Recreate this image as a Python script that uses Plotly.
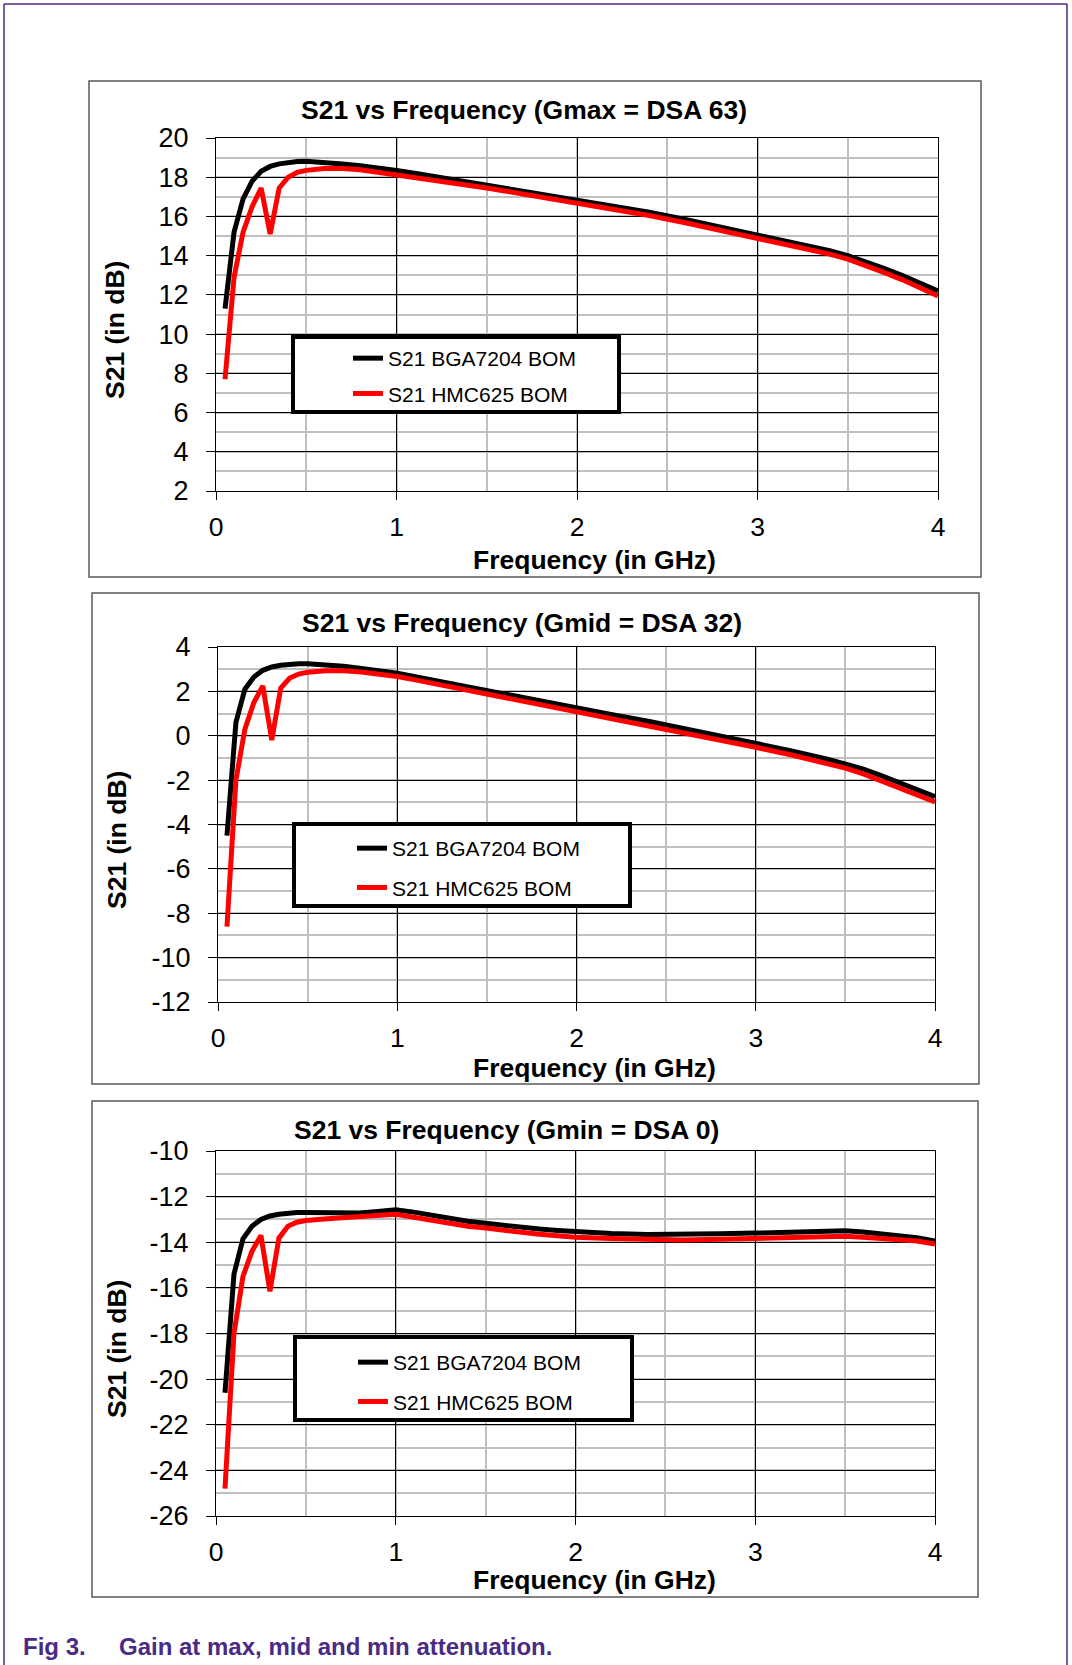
import plotly.graph_objects as go

# ---------------- data ----------------
freq_ghz = [0.05, 0.1, 0.15, 0.2, 0.25, 0.3, 0.35, 0.4, 0.45, 0.5, 0.6, 0.7, 0.8, 0.9,
            1.0, 1.1, 1.2, 1.3, 1.4, 1.5, 1.6, 1.7, 1.8, 1.9, 2.0, 2.2, 2.4, 2.6, 2.8,
            3.0, 3.2, 3.4, 3.5, 3.6, 3.7, 3.8, 3.9, 4.0]

gmax_bga = [11.3, 15.2, 16.9, 17.8, 18.3, 18.55, 18.68, 18.75, 18.8, 18.82, 18.78, 18.68,
            18.58, 18.48, 18.35, 18.2, 18.05, 17.92, 17.78, 17.62, 17.47, 17.32, 17.17,
            17.02, 16.87, 16.55, 16.22, 15.85, 15.45, 15.05, 14.68, 14.25, 14.0, 13.7,
            13.35, 13.0, 12.6, 12.2]
gmax_hmc = [7.7, 12.9, 15.2, 16.5, 17.45, 15.1, 17.45, 18.0, 18.25, 18.35, 18.45, 18.45,
            18.38, 18.25, 18.15, 18.02, 17.88, 17.75, 17.6, 17.45, 17.3, 17.15, 17.0,
            16.85, 16.7, 16.38, 16.05, 15.68, 15.28, 14.88, 14.5, 14.08, 13.82, 13.5,
            13.15, 12.78, 12.38, 11.95]

gmid_bga = [-4.5, 0.6, 2.1, 2.65, 2.95, 3.1, 3.18, 3.22, 3.24, 3.24, 3.2, 3.13, 3.03, 2.93,
            2.82, 2.66, 2.5, 2.34, 2.18, 2.02, 1.86, 1.7, 1.55, 1.4, 1.25, 0.95, 0.65,
            0.33, 0.0, -0.33, -0.68, -1.05, -1.25, -1.5, -1.8, -2.1, -2.42, -2.75]
gmid_hmc = [-8.6, -2.0, 0.3, 1.5, 2.25, -0.2, 2.15, 2.6, 2.78, 2.86, 2.93, 2.93, 2.87, 2.78,
            2.67, 2.52, 2.36, 2.2, 2.04, 1.88, 1.72, 1.56, 1.41, 1.26, 1.1, 0.8, 0.48,
            0.15, -0.18, -0.52, -0.87, -1.25, -1.46, -1.72, -2.02, -2.33, -2.66, -2.98]

gmin_bga = [-20.6, -15.4, -13.85, -13.3, -13.0, -12.85, -12.77, -12.72, -12.7, -12.7, -12.7,
            -12.72, -12.72, -12.65, -12.58, -12.68, -12.83, -12.98, -13.08, -13.17, -13.27,
            -13.35, -13.42, -13.48, -13.53, -13.62, -13.66, -13.66, -13.63, -13.6, -13.55,
            -13.5, -13.5, -13.55, -13.62, -13.68, -13.8, -13.95]
gmin_hmc = [-24.8, -18.0, -15.5, -14.4, -13.7, -16.15, -13.82, -13.3, -13.12, -13.05, -12.98,
            -12.92, -12.88, -12.82, -12.77, -12.9, -13.05, -13.2, -13.3, -13.38, -13.48,
            -13.57, -13.65, -13.72, -13.78, -13.84, -13.88, -13.9, -13.87, -13.82, -13.78,
            -13.75, -13.74, -13.78, -13.83, -13.86, -13.95, -14.08]

series_names = ["S21 BGA7204 BOM", "S21 HMC625 BOM"]
chart_titles = ["S21 vs Frequency (Gmax = DSA 63)",
                "S21 vs Frequency (Gmid = DSA 32)",
                "S21 vs Frequency (Gmin = DSA 0)"]
x_ticks = [0, 1, 2, 3, 4]
y_ticks = [
    [2, 4, 6, 8, 10, 12, 14, 16, 18, 20],
    [-12, -10, -8, -6, -4, -2, 0, 2, 4],
    [-26, -24, -22, -20, -18, -16, -14, -12, -10],
]
x_title = "Frequency (in GHz)"
y_title = "S21 (in dB)"
caption_num = "Fig 3."
caption_text = "Gain at max, mid and min attenuation."

# ---------------- layout geometry (pixels) ----------------
W, H = 1072, 1665
FONT = "Liberation Sans, Arial, sans-serif"
PURPLE = "#4B2A85"
TITLE_SIZE = 26.5

def px(x):
    return x / W

def py(y):
    return 1 - y / H

plots = [  # plot area: left, top, right, bottom
    (216, 138, 938, 491),
    (218, 647, 935, 1002),
    (216, 1151, 935, 1516),
]
boxes = [(89, 81, 981, 577), (92, 593, 979, 1084), (92, 1101, 978, 1597)]
legend_boxes = [(293, 337, 619, 412), (294, 824, 630, 906), (295, 1337, 632, 1420)]
legend_first_row = [356, 846, 1360]
legend_gap = [5, 9, 9]
legend_text_x = [393, 397, 398]
title_pos = [(524, 110), (522, 623), (506, 1130)]
xtitle_pos = [(594, 560), (594, 1068), (594, 1580)]
ytitle_pos = [(115, 330), (117, 840), (117, 1349)]

data_sets = [(gmax_bga, gmax_hmc), (gmid_bga, gmid_hmc), (gmin_bga, gmin_hmc)]
colors = ["#000000", "#FF0000"]

fig = go.Figure()
layout = dict(
    width=W, height=H, autosize=False,
    margin=dict(l=0, r=0, t=0, b=0, pad=0, autoexpand=False),
    paper_bgcolor="white", plot_bgcolor="white",
    font=dict(family=FONT, color="black"),
    shapes=[], annotations=[],
)

for i in range(3):
    sfx = "" if i == 0 else str(i + 1)
    leg = "legend" if i == 0 else "legend" + str(i + 1)
    for j in range(2):
        fig.add_trace(go.Scatter(
            x=freq_ghz, y=data_sets[i][j], mode="lines",
            name=series_names[j],
            line=dict(color=colors[j], width=5),
            xaxis="x" + sfx, yaxis="y" + sfx,
            legend=leg, legendgroup=f"g{i}{j}",
        ))
    l, t, r, b = plots[i]
    layout["xaxis" + sfx] = dict(
        domain=[px(l), px(r)], anchor="y" + sfx, range=[0, 4],
        tickmode="array", tickvals=x_ticks, ticktext=[str(v) for v in x_ticks],
        showgrid=True, gridcolor="#000000", gridwidth=1,
        minor=dict(dtick=0.5, tick0=0, showgrid=True, gridcolor="#BFBFBF", gridwidth=2, ticks=""),
        showline=True, linecolor="#000000", linewidth=1, mirror=True,
        ticks="outside", ticklen=8, tickcolor="#000000", tickwidth=1,
        tickfont=dict(size=26.5, family=FONT, color="black"),
        ticklabelstandoff=4, zeroline=False, fixedrange=True, automargin=False,
    )
    yt = y_ticks[i]
    layout["yaxis" + sfx] = dict(
        domain=[py(b), py(t)], anchor="x" + sfx, range=[yt[0], yt[-1]],
        tickmode="array", tickvals=yt, ticktext=[str(v) for v in yt],
        showgrid=True, gridcolor="#000000", gridwidth=1,
        minor=dict(dtick=1, tick0=0, showgrid=True, gridcolor="#BFBFBF", gridwidth=2, ticks=""),
        showline=True, linecolor="#000000", linewidth=1, mirror=True,
        ticks="outside", ticklen=9, tickcolor="#000000", tickwidth=1,
        tickfont=dict(size=27, family=FONT, color="black"),
        ticklabelstandoff=12, zeroline=False, fixedrange=True, automargin=False,
    )
    # chart frame
    bl, bt, br, bb = boxes[i]
    layout["shapes"].append(dict(type="rect", xref="paper", yref="paper",
                                 x0=px(bl), x1=px(br), y0=py(bb), y1=py(bt),
                                 line=dict(color="#5A5A5A", width=1.5), layer="below"))
    # legend frame
    ll, lt, lr, lb = legend_boxes[i]
    layout["shapes"].append(dict(type="rect", xref="paper", yref="paper",
                                 x0=px(ll), x1=px(lr), y0=py(lb), y1=py(lt),
                                 line=dict(color="#000000", width=4), fillcolor="white",
                                 layer="above"))
    layout[leg] = dict(
        x=px(legend_text_x[i] - 45), y=py(legend_first_row[i] - 18),
        xanchor="left", yanchor="top", bgcolor="rgba(0,0,0,0)", borderwidth=0,
        font=dict(size=21, family=FONT, color="black"),
        traceorder="grouped", tracegroupgap=legend_gap[i], itemclick=False,
    )
    # titles
    tx, ty = title_pos[i]
    layout["annotations"].append(dict(text="<b>" + chart_titles[i] + "</b>", x=px(tx), y=py(ty),
                                      xref="paper", yref="paper", showarrow=False,
                                      xanchor="center", yanchor="middle",
                                      font=dict(size=TITLE_SIZE, family=FONT, color="black")))
    xx, xy = xtitle_pos[i]
    layout["annotations"].append(dict(text="<b>" + x_title + "</b>", x=px(xx), y=py(xy),
                                      xref="paper", yref="paper", showarrow=False,
                                      xanchor="center", yanchor="middle",
                                      font=dict(size=TITLE_SIZE, family=FONT, color="black")))
    yx, yy = ytitle_pos[i]
    layout["annotations"].append(dict(text="<b>" + y_title + "</b>", x=px(yx), y=py(yy),
                                      xref="paper", yref="paper", showarrow=False,
                                      xanchor="center", yanchor="middle", textangle=-90,
                                      font=dict(size=TITLE_SIZE, family=FONT, color="black")))

# outer purple frame (bottom edge runs off the page)
for (x0, y0, x1, y1) in [(4, 4, 1067, 4), (4, 4, 4, 1665), (1067, 4, 1067, 1665)]:
    layout["shapes"].append(dict(type="line", xref="paper", yref="paper",
                                 x0=px(x0), x1=px(x1), y0=py(y0), y1=py(y1),
                                 line=dict(color=PURPLE, width=1.5), layer="below"))

# caption
layout["annotations"].append(dict(text="<b>" + caption_num + "</b>", x=px(21), y=py(1646),
                                  xref="paper", yref="paper", showarrow=False,
                                  xanchor="left", yanchor="middle",
                                  font=dict(size=24, family=FONT, color=PURPLE)))
layout["annotations"].append(dict(text="<b>" + caption_text + "</b>", x=px(117), y=py(1646),
                                  xref="paper", yref="paper", showarrow=False,
                                  xanchor="left", yanchor="middle",
                                  font=dict(size=24, family=FONT, color=PURPLE)))

fig.update_layout(**layout)
fig.write_html(
    "out.html",
    config={"displayModeBar": False},
    post_script="document.documentElement.style.margin='0';document.body.style.margin='0';",
)
